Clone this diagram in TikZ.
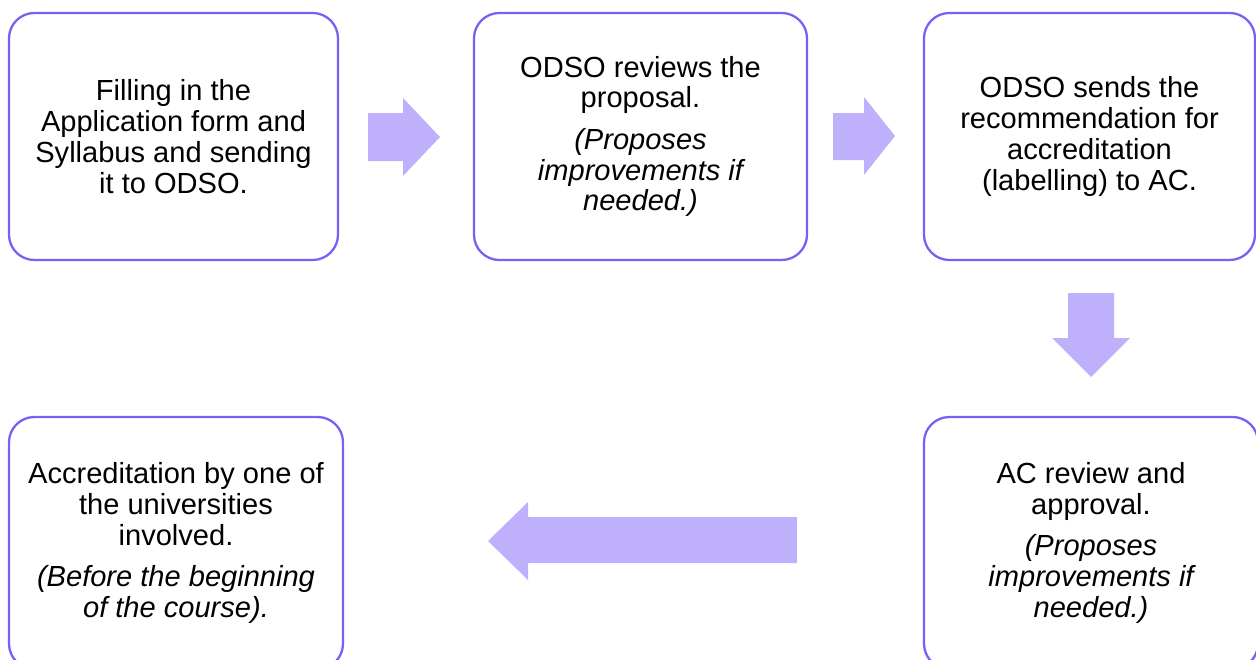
\documentclass[tikz,border=0pt]{standalone}
\usepackage{fontspec}
\setmainfont{Liberation Sans}
\begin{document}
\definecolor{boxline}{RGB}{125,94,245}
\definecolor{arrowfill}{RGB}{191,176,252}
\begin{tikzpicture}[x=0.75pt,y=-0.75pt,
  stepbox/.style={draw=boxline,line width=1.7pt,rounded corners=19pt,fill=white,
    align=center,inner sep=0pt,font=\fontsize{21.8}{23.1}\selectfont},
  blockarrow/.style={fill=arrowfill,draw=none}]
\useasboundingbox (0,0) rectangle (1256,660);
% process steps
\node[stepbox,minimum width=329*0.75pt,minimum height=247*0.75pt] (s1) at (173.5,136.5)
  {Filling in the\\Application form and\\Syllabus and sending\\it to ODSO.};
\node[stepbox,minimum width=333*0.75pt,minimum height=247*0.75pt] (s2) at (640.5,136.5)
  {ODSO reviews the\\proposal.\\[8pt]\itshape (Proposes\\\itshape improvements if\\\itshape needed.)};
\node[stepbox,minimum width=331*0.75pt,minimum height=247*0.75pt] (s3) at (1089.5,136.5)
  {ODSO sends the\\recommendation for\\accreditation\\(labelling) to AC.};
\node[stepbox,minimum width=334*0.75pt,minimum height=252*0.75pt] (s4) at (1091,543)
  {AC review and\\approval.\\[8pt]\itshape (Proposes\\\itshape improvements if\\\itshape needed.)};
\node[stepbox,minimum width=334*0.75pt,minimum height=252*0.75pt] (s5) at (176,543)
  {Accreditation by one of\\the universities\\involved.\\[8pt]\itshape (Before the beginning\\\itshape of the course).};
% block arrows between the steps
\fill[blockarrow] (368,113) -- (403,113) -- (403,98) -- (440,137) -- (403,176) -- (403,161) -- (368,161) -- cycle;
\fill[blockarrow] (833,113) -- (864,113) -- (864,97) -- (895,136) -- (864,175) -- (864,160) -- (833,160) -- cycle;
\fill[blockarrow] (1068,293) -- (1114,293) -- (1114,338) -- (1130,338) -- (1091,377) -- (1052,338) -- (1068,338) -- cycle;
\fill[blockarrow] (797,517) -- (528,517) -- (528,502) -- (488,541) -- (528,580) -- (528,563) -- (797,563) -- cycle;
\end{tikzpicture}
\end{document}
